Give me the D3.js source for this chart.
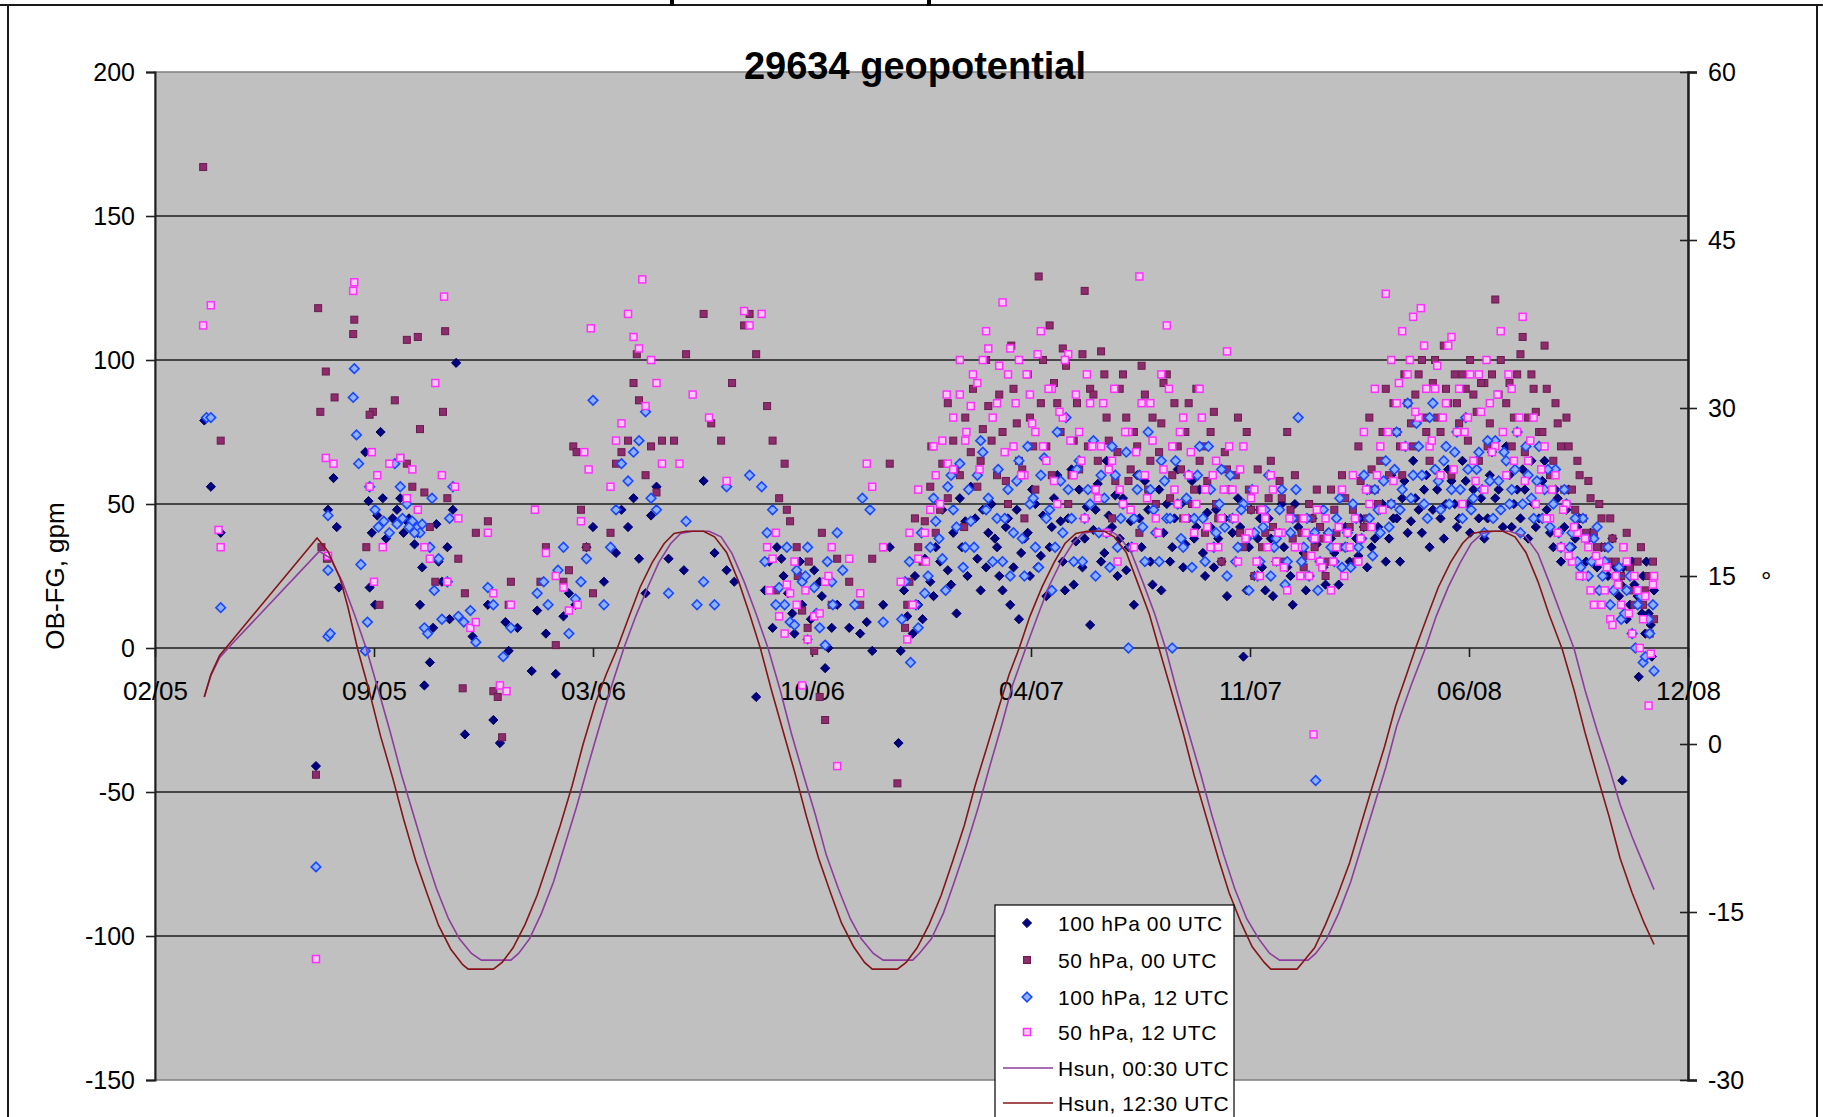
<!DOCTYPE html>
<html><head><meta charset="utf-8">
<script src="https://cdn.jsdelivr.net/npm/d3@7"></script>
<style>
body{margin:0;background:#fff}
svg{display:block}
text{font-family:"Liberation Sans",Arial,sans-serif;fill:#000}
</style>
</head><body>
<svg id="chart" width="1823" height="1117"></svg>
<script>
// Station 29634: observation minus first guess of geopotential, plus solar elevation.
// Dates are spreadsheet serial day numbers (38401 = 18 Feb 2005).
const xTickValues = [38401, 38601, 38801, 39001, 39201, 39401, 39601, 39801];
const xTickLabels = ["02/05","09/05","03/06","10/06","04/07","11/07","06/08","12/08"];
const leftTicks = [-150, -100, -50, 0, 50, 100, 150, 200];
const rightTicks = [-30, -15, 0, 15, 30, 45, 60];

const seriesNames = ["100 hPa 00 UTC","50 hPa, 00 UTC","100 hPa, 12 UTC","50 hPa, 12 UTC","Hsun, 00:30 UTC","Hsun, 12:30 UTC"];

// OB-FG, gpm
const z100_00 = [[38446,79],[38452,56],[38461,40],[38548,-41],[38559,48],[38564,59],[38567,42],[38569,21],
[38593,68],[38596,51],[38599,40],[38604,46],[38597,21],[38602,15],[38609,52],[38607,75],
[38625,52],[38631,44],[38636,42],[38641,40],[38643,15],[38647,-13],[38652,-5],[38655,7],[38663,23],[38668,35],[38673,48],[38684,-30],[38676,99],
[38612,38],[38618,45],[38622,48],[38628,40],[38633,45],[38638,36],[38645,28],[38658,43],[38660,30],[38670,10],
[38691,4],[38705,15],[38710,-25],[38716,-33],[38721,9],[38724,-1],[38732,7],
[38745,-8],[38750,13],[38758,5],[38767,-9],[38774,11],[38779,19],[38785,15],[38790,23],[38795,35],[38801,42],
[38811,23],[38822,33],[38827,48],[38833,42],[38838,52],[38843,31],[38849,19],[38854,46],[38859,56],
[38870,31],[38884,27],[38902,58],[38912,33],[38923,27],[38930,23],[38950,-17],
[38958,20],[38962,30],[38975,25],[38983,12],[38990,30],[39000,10],[39010,18],[39016,0],
[38965,7],[38969,35],[38973,31],[38979,19],[38985,5],[38992,15],[38997,3],[39003,27],[39008,23],[39013,-7],[39019,7],[39024,15],
[39035,7],[39045,5],[39051,9],[39056,-1],[39066,15],[39072,35],
[39080,-33],[39082,-1],[39088,11],[39093,5],[39098,15],[39104,31],[39109,23],[39114,35],[39120,48],[39125,27],[39130,40],[39136,52],[39141,44],[39146,56],[39152,31],[39157,48],[39162,40],
[39170,35],[39175,20],[39180,45],[39185,28],[39190,10],[39195,38],[39200,25],[39205,50],[39210,32],[39215,18],[39220,42],[39225,60],[39230,30],[39235,45],[39240,22],[39245,55],[39250,38],[39255,8],[39260,48],[39265,30],[39270,65],[39275,42],[39280,25],[39285,52],[39290,35],[39295,15],[39300,45],[39305,58],[39310,30],[39315,40],[39320,20],[39325,50],[39330,35],[39335,62],[39340,28],[39345,45],[39350,38],[39355,55],[39360,25],[39365,42],[39370,48],[39375,30],[39380,18],[39385,40],[39390,52],[39395,-3],[39400,35],[39405,25],[39410,45],[39415,20],[39420,38],[39425,30],[39430,50],[39435,28],[39440,15],[39445,42],[39450,33],[39455,25],[39460,40],[39465,30],[39470,22],[39475,38],[39480,45],[39485,28],[39490,35],[39495,50],[39500,32],[39505,42],[39510,55],[39515,38],[39520,48],[39525,30],[39530,60],[39535,45],[39540,52],[39545,40],[39550,65],[39555,48],[39560,55],[39565,35],[39570,62],[39575,45],[39580,50],[39585,58],[39590,42],[39595,65],[39600,50],[39605,55],[39610,45],[39615,38],[39620,60],[39625,52],[39630,48],[39635,70],[39640,42],[39645,55],[39650,62],[39655,38],[39660,50],[39665,45],[39670,65],[39675,40],[39680,55],[39685,30],[39690,48],[39695,35],[39700,42],[39705,25],[39710,38],[39715,30],[39720,20],[39725,35],[39730,15],[39735,28],[39740,22],[39745,10],[39750,30],[39755,18],[39741,-46],[39760,25],[39762,5],[39765,12],[39768,-3],[39770,20],
[39085,20],[39095,25],[39102,10],[39112,18],[39118,30],[39128,22],[39133,12],[39138,35],[39143,25],[39150,45],[39155,20],[39160,28],[39165,50],[39168,38],[39172,25],[39178,42],[39182,15],[39188,48],[39192,33],[39198,40],[39202,55],[39207,28],[39212,46],[39218,35],[39222,52],[39228,44],[39232,20],[39238,62],[39242,37],[39248,28],[39252,49],[39258,41],[39262,57],[39268,33],[39272,46],[39278,53],[39282,38],[39288,27],[39292,44],[39298,60],[39302,35],[39308,48],[39312,22],[39318,55],[39322,40],[39328,30],[39332,45],[39338,50],[39342,36],[39348,58],[39352,42],[39358,33],[39362,47],[39368,28],[39372,38],[39378,45],[39382,55],[39388,30],[39392,42],[39398,20],[39402,48],[39408,38],[39412,28],[39418,45],[39422,18],[39428,40],[39432,35],[39438,25],[39442,50],[39448,30],[39452,20],[39458,45],[39462,36],[39468,28],[39472,40],[39478,33],[39482,22],[39488,42],[39492,30],[39498,38],[39502,45],[39508,28],[39512,35],[39518,42],[39522,50],[39528,38],[39532,45],[39538,30],[39542,58],[39548,44],[39552,52],[39558,40],[39562,60],[39568,48],[39572,55],[39578,38],[39582,62],[39588,50],[39592,45],[39598,58],[39602,40],[39608,65],[39612,52],[39618,45],[39622,68],[39628,55],[39632,42],[39638,60],[39642,50],[39648,45],[39652,55],[39658,65],[39662,42],[39668,58],[39672,48],[39678,35],[39682,52],[39688,42],[39692,55],[39698,38],[39702,45],[39708,30],[39712,40],[39718,28],[39722,35],[39728,25],[39732,38],[39738,18],[39742,28],[39748,15],[39752,22],[39756,-10],[39759,12],[39763,30],[39767,8]];

const z50_00 = [[38445,167],[38461,72],[38550,118],[38583,114],[38582,109],[38631,107],[38666,110],[38557,96],[38565,87],[38552,82],[38600,82],[38597,81],[38664,82],
[38548,-44],[38553,35],[38558,31],[38594,35],[38606,15],
[38620,86],[38625,66],[38631,64],[38636,56],[38641,108],[38643,76],[38647,54],[38652,42],[38657,23],[38668,52],[38678,31],[38682,-14],[38684,19],
[38694,40],[38705,44],[38710,-15],[38714,-17],[38718,-31],[38724,15],[38726,23],
[38748,48],[38753,23],[38758,35],[38767,1],[38774,23],[38779,27],[38783,70],[38786,68],[38790,48],[38795,35],[38801,19],
[38817,40],[38822,64],[38827,68],[38833,72],[38838,92],[38841,102],[38843,86],[38849,60],[38854,70],[38859,54],[38864,72],
[38875,72],[38886,102],[38902,116],[38909,78],[38918,72],[38928,92],[38939,112],[38944,116],[38950,102],
[38960,84],[38965,72],[38971,52],[38976,64],[38981,44],[38987,35],[38992,13],[38997,7],[39003,-1],[39008,-17],[39013,-25],[39019,15],[39024,31],
[38968,20],[38978,48],[38988,25],[38998,30],[39010,40],
[39035,23],[39045,15],[39056,31],[39066,35],[39072,64],
[39079,-47],[39086,7],[39090,23],[39098,35],[39104,44],[39109,56],[39114,40],[39120,64],[39125,52],[39130,72],[39136,60],[39141,80],[39146,68],[39152,56],[39157,76],[39162,84],
[39170,60],[39175,75],[39180,50],[39185,90],[39190,65],[39195,45],[39200,80],[39205,55],[39208,129],[39212,100],[39215,70],[39220,60],[39225,85],[39230,104],[39235,50],[39240,72],[39245,62],[39250,124],[39255,90],[39260,55],[39265,103],[39270,80],[39275,45],[39280,68],[39285,95],[39290,58],[39295,75],[39300,40],[39305,88],[39310,65],[39315,50],[39320,78],[39325,95],[39330,60],[39335,70],[39340,45],[39345,85],[39350,55],[39355,65],[39360,40],[39365,75],[39370,50],[39375,30],[39380,62],[39385,45],[39390,80],[39395,35],[39400,55],[39405,25],[39410,48],[39415,40],[39420,65],[39425,30],[39430,52],[39435,75],[39440,38],[39445,45],[39450,28],[39455,50],[39460,35],[39465,42],[39470,25],[39475,55],[39480,40],[39485,60],[39490,35],[39495,48],[39500,70],[39505,42],[39510,80],[39515,55],[39520,65],[39525,90],[39530,50],[39535,75],[39540,60],[39545,85],[39550,70],[39555,95],[39560,80],[39565,65],[39570,100],[39575,75],[39580,90],[39585,60],[39590,85],[39595,95],[39600,72],[39605,88],[39610,65],[39615,92],[39620,78],[39625,121],[39630,100],[39635,85],[39640,70],[39645,95],[39650,108],[39655,80],[39660,90],[39665,75],[39670,105],[39675,60],[39680,85],[39685,70],[39690,80],[39695,55],[39700,65],[39705,45],[39710,58],[39715,40],[39720,50],[39725,35],[39730,45],[39735,30],[39740,25],[39745,40],[39750,20],[39755,30],[39760,15],[39765,25],[39770,10],
[39088,15],[39095,45],[39102,30],[39110,70],[39118,48],[39125,85],[39132,62],[39140,42],[39148,90],[39155,65],[39160,100],[39165,72],[39172,88],[39178,58],[39183,105],[39188,78],[39193,62],[39198,95],[39203,70],[39210,85],[39218,112],[39222,92],[39228,75],[39233,98],[39238,60],[39243,85],[39248,102],[39253,70],[39258,88],[39262,65],[39268,95],[39272,72],[39278,58],[39282,90],[39288,80],[39292,62],[39298,70],[39302,98],[39308,55],[39312,80],[39318,68],[39322,92],[39328,52],[39332,85],[39338,62],[39342,75],[39348,50],[39352,90],[39358,70],[39362,58],[39368,82],[39372,45],[39378,68],[39382,55],[39388,60],[39392,40],[39398,75],[39402,48],[39408,62],[39412,35],[39418,52],[39422,42],[39428,58],[39432,30],[39438,48],[39442,60],[39448,40],[39452,32],[39458,45],[39462,55],[39468,38],[39472,30],[39478,48],[39482,35],[39488,52],[39492,42],[39498,30],[39502,58],[39508,45],[39512,62],[39518,50],[39522,75],[39528,60],[39532,85],[39538,70],[39542,95],[39548,78],[39552,88],[39558,100],[39562,75],[39568,92],[39572,80],[39578,105],[39582,85],[39588,95],[39592,78],[39598,90],[39602,100],[39608,82],[39612,92],[39618,70],[39622,95],[39628,88],[39632,75],[39638,92],[39642,80],[39648,102],[39652,68],[39658,95],[39662,82],[39668,75],[39672,90],[39678,65],[39682,78],[39688,55],[39692,70],[39698,48],[39702,60],[39708,40],[39712,52],[39718,35],[39722,45],[39728,30],[39732,38],[39738,22],[39742,35],[39748,28],[39752,15],[39758,35],[39762,20],[39766,5],[39769,30]];

const z100_12 = [[38448,80],[38452,80],[38461,14],[38548,-76],[38559,46],[38559,27],[38559,4],[38561,5],
[38583,97],[38582,87],[38585,74],[38587,64],[38589,29],[38593,-1],[38595,9],[38597,56],[38602,48],
[38620,64],[38625,56],[38631,50],[38636,44],[38641,42],[38643,40],[38647,7],[38650,5],[38652,35],[38654,52],[38660,31],[38668,23],[38673,56],[38678,11],[38683,9],
[38605,42],[38610,44],[38615,40],[38622,43],[38627,45],[38633,42],[38638,40],[38645,43],[38656,20],[38663,10],[38670,45],
[38689,13],[38694,2],[38705,21],[38710,15],[38719,-3],[38726,7],
[38750,19],[38756,23],[38760,15],[38769,27],[38774,35],[38779,5],[38785,17],[38790,23],[38795,31],[38801,86],
[38811,15],[38817,35],[38822,48],[38827,64],[38833,58],[38838,68],[38843,72],[38849,82],[38854,52],[38859,48],
[38870,19],[38886,44],[38896,15],[38902,23],[38912,15],[38923,56],[38944,60],
[38955,56],[38960,40],[38965,48],[38971,21],[38976,15],[38981,9],[38987,27],[38992,23],[38997,35],[39003,21],[39008,7],[39013,1],[39019,23],[39024,40],
[38958,30],[38968,15],[38978,35],[38985,8],[38995,25],[39005,12],[39015,30],[39020,15],
[39029,27],[39040,15],[39047,52],[39054,48],[39066,9],
[39086,23],[39091,-5],[39098,7],[39104,19],[39109,35],[39114,44],[39120,31],[39125,56],[39130,48],[39136,64],[39141,35],[39146,44],[39152,60],[39157,68],[39162,52],
[39170,45],[39175,30],[39180,55],[39185,40],[39190,65],[39195,25],[39200,50],[39205,35],[39210,60],[39215,45],[39220,20],[39225,75],[39230,40],[39235,55],[39240,30],[39245,65],[39250,45],[39255,50],[39260,25],[39265,60],[39270,40],[39275,70],[39280,35],[39285,50],[39290,0],[39295,45],[39300,60],[39305,30],[39310,55],[39315,40],[39320,65],[39325,45],[39330,0],[39335,50],[39340,35],[39345,60],[39350,45],[39355,70],[39360,30],[39365,55],[39370,40],[39375,62],[39380,25],[39385,45],[39390,35],[39395,50],[39400,20],[39405,40],[39410,30],[39415,48],[39420,25],[39425,38],[39430,55],[39435,30],[39440,45],[39445,80],[39450,35],[39455,25],[39460,40],[39465,30],[39461,-46],[39475,35],[39480,45],[39485,28],[39490,40],[39495,50],[39500,35],[39505,60],[39510,45],[39515,55],[39520,40],[39525,65],[39530,50],[39535,75],[39540,55],[39545,85],[39550,60],[39555,70],[39560,50],[39565,80],[39570,62],[39575,48],[39580,70],[39585,55],[39590,75],[39595,45],[39600,62],[39605,52],[39610,68],[39615,40],[39620,58],[39625,72],[39630,48],[39635,65],[39640,55],[39645,75],[39650,50],[39655,60],[39660,45],[39665,70],[39670,55],[39675,42],[39680,62],[39685,35],[39690,50],[39695,40],[39700,30],[39705,45],[39710,25],[39715,38],[39720,20],[39725,30],[39730,15],[39735,25],[39740,10],[39745,20],[39750,5],[39755,15],[39760,-5],[39765,10],[39770,-8],
[39083,10],[39090,30],[39096,15],[39101,40],[39107,25],[39112,52],[39117,38],[39123,20],[39128,60],[39133,42],[39139,28],[39144,55],[39149,35],[39155,72],[39160,48],[39166,30],[39171,62],[39177,45],[39182,25],[39188,58],[39193,38],[39198,70],[39203,52],[39208,28],[39213,66],[39218,48],[39223,35],[39228,58],[39233,80],[39238,45],[39243,62],[39248,30],[39253,55],[39258,72],[39263,40],[39268,52],[39273,28],[39278,60],[39283,45],[39288,68],[39293,35],[39298,55],[39303,42],[39308,75],[39313,48],[39318,30],[39323,58],[39328,45],[39333,65],[39338,38],[39343,52],[39348,28],[39353,60],[39358,45],[39363,70],[39368,35],[39373,50],[39378,42],[39383,60],[39388,30],[39393,48],[39398,38],[39403,55],[39408,25],[39413,42],[39418,60],[39423,35],[39428,48],[39433,22],[39438,40],[39443,55],[39448,30],[39453,45],[39458,38],[39463,20],[39468,48],[39473,40],[39478,30],[39483,52],[39488,35],[39493,28],[39498,45],[39503,38],[39508,55],[39513,32],[39518,48],[39523,58],[39528,42],[39533,62],[39538,48],[39543,70],[39548,52],[39553,78],[39558,60],[39563,45],[39568,85],[39573,58],[39578,65],[39583,50],[39588,68],[39593,55],[39598,80],[39603,48],[39608,62],[39613,55],[39618,72],[39623,45],[39628,58],[39633,68],[39638,50],[39643,62],[39648,40],[39653,70],[39658,52],[39663,58],[39668,45],[39673,62],[39678,50],[39683,40],[39688,55],[39693,35],[39698,45],[39703,28],[39708,38],[39713,30],[39718,42],[39723,25],[39728,35],[39733,20],[39738,28],[39743,12],[39748,25],[39753,0],[39758,18],[39762,-3],[39766,5],[39769,15]];

const z50_12 = [[38445,112],[38452,119],[38461,35],[38459,41],[38583,127],[38582,124],[38665,122],
[38548,-108],[38557,66],[38564,64],[38559,32],
[38599,68],[38597,56],[38604,60],[38615,64],[38609,35],[38601,23],
[38625,66],[38631,52],[38636,62],[38641,48],[38647,35],[38652,31],[38657,92],[38663,60],[38668,23],[38675,56],[38678,45],
[38689,7],[38694,9],[38705,40],[38710,19],[38716,-13],[38722,-15],[38726,15],
[38748,48],[38758,33],[38767,25],[38774,21],[38779,13],[38787,15],[38790,44],[38793,68],[38797,62],[38799,111],
[38817,56],[38822,72],[38827,78],[38833,116],[38838,108],[38843,104],[38846,128],[38849,84],[38854,100],[38859,92],[38864,64],
[38880,64],[38892,88],[38907,80],[38923,58],[38939,117],[38944,112],[38955,116],
[38960,35],[38965,31],[38971,11],[38976,5],[38981,19],[38987,15],[38992,-13],[38997,3],[39003,11],[39013,23],[39019,35],[39024,-41],
[38962,20],[38968,40],[38978,22],[38985,30],[38995,20],[39008,12],[39016,25],
[39035,31],[39045,19],[39051,64],[39056,56],[39066,35],
[39082,23],[39088,3],[39093,15],[39098,31],[39104,40],[39109,48],[39114,60],[39120,72],[39125,64],[39130,80],[39136,88],[39141,72],[39146,84],[39152,92],[39157,100],[39162,104],
[39170,85],[39175,120],[39180,95],[39185,70],[39190,100],[39195,60],[39200,88],[39205,75],[39210,110],[39215,65],[39220,90],[39225,50],[39230,80],[39235,102],[39240,60],[39245,75],[39250,45],[39255,85],[39260,55],[39265,70],[39270,40],[39275,65],[39280,30],[39285,50],[39290,75],[39295,35],[39300,129],[39305,60],[39310,85],[39315,45],[39320,95],[39325,112],[39330,70],[39335,50],[39340,80],[39345,60],[39350,40],[39355,90],[39360,55],[39365,35],[39370,65],[39375,45],[39380,103],[39385,55],[39390,30],[39395,70],[39400,40],[39405,55],[39410,25],[39415,45],[39420,60],[39425,30],[39430,40],[39435,20],[39459,-30],[39445,35],[39450,45],[39455,25],[39460,38],[39465,30],[39470,45],[39475,20],[39480,35],[39485,55],[39490,40],[39495,60],[39500,30],[39505,75],[39510,50],[39515,90],[39520,70],[39525,123],[39530,100],[39535,85],[39540,110],[39545,95],[39550,115],[39555,80],[39560,105],[39565,70],[39570,90],[39575,60],[39580,85],[39585,108],[39590,75],[39595,50],[39600,80],[39605,65],[39610,95],[39615,55],[39620,85],[39625,70],[39630,110],[39635,60],[39640,90],[39645,75],[39650,115],[39655,65],[39660,80],[39665,55],[39670,70],[39675,45],[39680,60],[39685,35],[39690,50],[39695,30],[39700,40],[39705,25],[39710,35],[39715,15],[39720,30],[39725,20],[39730,10],[39735,25],[39740,15],[39745,30],[39750,5],[39755,20],[39760,10],[39765,-20],[39770,25],
[39090,40],[39098,55],[39105,30],[39112,70],[39118,50],[39124,88],[39130,62],[39136,100],[39142,75],[39148,95],[39154,62],[39160,110],[39166,80],[39172,98],[39177,68],[39182,104],[39187,85],[39192,60],[39197,95],[39202,78],[39207,102],[39212,70],[39217,90],[39222,58],[39227,82],[39232,100],[39237,72],[39242,88],[39247,65],[39252,95],[39257,70],[39262,52],[39267,85],[39272,62],[39277,90],[39282,55],[39287,75],[39292,48],[39297,68],[39302,85],[39307,52],[39312,72],[39317,40],[39322,62],[39327,90],[39332,55],[39337,75],[39342,45],[39347,68],[39352,50],[39357,80],[39362,42],[39367,60],[39372,35],[39377,55],[39382,70],[39387,45],[39392,62],[39397,38],[39402,52],[39407,30],[39412,48],[39417,35],[39422,55],[39427,40],[39432,28],[39437,45],[39442,35],[39447,25],[39452,40],[39457,32],[39462,48],[39467,28],[39472,38],[39477,30],[39482,42],[39487,25],[39492,35],[39497,45],[39502,38],[39507,55],[39512,42],[39517,60],[39522,48],[39527,75],[39532,58],[39537,92],[39542,70],[39547,100],[39552,82],[39557,118],[39562,90],[39567,72],[39572,98],[39577,80],[39582,105],[39587,62],[39592,90],[39597,75],[39602,95],[39607,58],[39612,82],[39617,100],[39622,68],[39627,88],[39632,75],[39637,95],[39642,65],[39647,80],[39652,58],[39657,72],[39662,50],[39667,62],[39672,45],[39677,55],[39682,40],[39687,48],[39692,32],[39697,42],[39702,25],[39707,38],[39712,20],[39717,32],[39722,15],[39727,28],[39732,8],[39737,22],[39742,35],[39747,12],[39752,25],[39757,0],[39762,18],[39767,-2],[39769,22]];

// Solar elevation, degrees
const hsun0030 = [[38446,4.2],[38452,6.1],[38460,7.7],[38471,8.9],[38551,17.2],[38561,16.6],[38572,14.5],[38583,11.6],[38594,8.5],[38605,4.8],[38616,1.0],[38626,-2.7],[38637,-6.3],[38648,-9.9],[38658,-12.9],[38669,-15.6],[38679,-17.4],[38690,-18.7],[38699,-19.3],[38726,-19.3],
[38733,-18.7],[38743,-17.4],[38754,-15.1],[38765,-12.3],[38775,-9.1],[38786,-5.6],[38796,-2.1],[38807,1.6],[38818,5.2],[38829,8.5],[38840,11.4],[38851,14.0],[38861,16.2],[38872,17.9],[38881,18.8],[38892,19.0],[38907,19.0],
[38918,18.5],[38928,17.0],[38939,14.5],[38950,11.6],[38961,8.5],[38972,4.8],[38982,1.0],[38993,-2.7],[39004,-6.3],[39014,-9.9],[39025,-12.9],[39036,-15.6],[39046,-17.4],[39057,-18.7],[39066,-19.3],[39093,-19.3],
[39099,-18.7],[39110,-17.4],[39121,-15.1],[39131,-12.3],[39142,-9.1],[39153,-5.6],[39163,-2.1],[39174,1.6],[39184,5.2],[39196,8.5],[39207,11.4],[39217,14.0],[39228,16.2],[39239,17.9],[39248,18.8],[39259,19.0],[39274,19.0],
[39282,18.5],[39293,17.0],[39303,14.5],[39314,11.6],[39324,8.5],[39334,4.8],[39345,1.0],[39356,-2.7],[39366,-6.3],[39377,-9.9],[39387,-12.9],[39398,-15.6],[39409,-17.4],[39419,-18.7],[39428,-19.3],[39454,-19.3],
[39461,-18.7],[39471,-17.4],[39482,-15.1],[39493,-12.3],[39503,-9.1],[39514,-5.6],[39525,-2.1],[39535,1.6],[39548,5.2],[39561,8.5],[39571,11.4],[39582,14.0],[39593,16.2],[39603,17.9],[39613,18.8],[39623,19.0],[39638,19.0],
[39653,18.5],[39664,17.0],[39674,14.5],[39685,11.6],[39697,8.5],[39707,4.8],[39718,1.2],[39729,-2.1],[39739,-5.4],[39750,-8.3],[39761,-10.9],[39770,-13.0]];

const hsun1230 = [[38446,4.2],[38452,6.2],[38460,7.9],[38471,9.2],[38549,18.4],[38559,17.2],[38570,14.8],[38577,12.3],[38586,8.5],[38597,4.6],[38607,0.7],[38618,-3.0],[38628,-6.7],[38639,-10.4],[38650,-13.5],[38660,-16.2],[38671,-18.3],[38682,-19.7],[38687,-20.1],[38710,-20.1],
[38718,-19.5],[38728,-18.2],[38739,-16.1],[38750,-13.5],[38760,-10.6],[38771,-7.3],[38782,-3.7],[38792,0],[38803,3.6],[38813,6.2],[38823,8.5],[38834,11.4],[38844,14.0],[38855,16.2],[38866,17.9],[38875,18.8],[38886,19.0],[38902,19.0],
[38912,18.5],[38923,17.1],[38934,14.5],[38944,11.6],[38954,8.5],[38964,4.8],[38975,1.0],[38986,-2.8],[38996,-6.5],[39007,-10.2],[39018,-13.3],[39028,-16.0],[39039,-18.1],[39049,-19.5],[39056,-20.1],[39079,-20.1],
[39087,-19.5],[39097,-18.2],[39108,-16.1],[39119,-13.5],[39129,-10.6],[39140,-7.3],[39150,-3.7],[39161,-0.2],[39172,3.4],[39181,6.2],[39190,8.5],[39200,11.4],[39211,14.0],[39222,16.2],[39232,17.9],[39242,18.8],[39252,19.0],[39268,19.0],
[39277,18.5],[39288,17.1],[39298,14.5],[39309,11.6],[39318,8.5],[39329,4.8],[39340,1.0],[39350,-2.8],[39361,-6.5],[39372,-10.2],[39382,-13.3],[39393,-16.0],[39403,-18.1],[39414,-19.5],[39420,-20.1],[39444,-20.1],
[39449,-19.5],[39460,-18.2],[39470,-16.1],[39481,-13.5],[39492,-10.6],[39502,-7.3],[39513,-3.7],[39524,-0.2],[39534,3.4],[39544,6.2],[39552,8.5],[39563,11.4],[39573,14.0],[39584,16.2],[39595,17.9],[39604,18.8],[39615,19.0],[39632,19.0],
[39643,18.5],[39653,17.1],[39664,14.5],[39674,11.6],[39686,8.5],[39697,4.8],[39707,1.0],[39718,-2.8],[39729,-6.5],[39739,-10.2],[39750,-13.3],[39761,-16.0],[39770,-17.9]];

const W = 1823, H = 1117;
const plot = {left: 155, right: 1688, top: 72, bottom: 1080};

const svg = d3.select("#chart");
svg.append("rect").attr("width", W).attr("height", H).attr("fill", "#fff");

// outer chart frame
const frame = svg.append("g").attr("stroke", "#1a1a1a").attr("stroke-width", 2).attr("fill", "none");
frame.append("line").attr("x1", 0).attr("x2", W).attr("y1", 5).attr("y2", 5);
frame.append("line").attr("x1", 8).attr("x2", 8).attr("y1", 5).attr("y2", H);
frame.append("line").attr("x1", 1817).attr("x2", 1817).attr("y1", 5).attr("y2", H);
svg.append("rect").attr("x", 670).attr("y", 0).attr("width", 4).attr("height", 6).attr("fill", "#000");
svg.append("rect").attr("x", 927).attr("y", 0).attr("width", 4).attr("height", 6).attr("fill", "#000");

const x = d3.scaleLinear().domain([xTickValues[0], xTickValues[xTickValues.length - 1]]).range([plot.left, plot.right]);
const yL = d3.scaleLinear().domain([-150, 200]).range([plot.bottom, plot.top]);
const yR = d3.scaleLinear().domain([-30, 60]).range([plot.bottom, plot.top]);

// plot area
svg.append("rect").attr("x", plot.left).attr("y", plot.top)
  .attr("width", plot.right - plot.left).attr("height", plot.bottom - plot.top)
  .attr("fill", "#c0c0c0").attr("stroke", "#808080").attr("stroke-width", 1.5);

// horizontal gridlines
svg.append("g").selectAll("line").data(leftTicks.filter(v => v > -150 && v < 200)).join("line")
  .attr("x1", plot.left).attr("x2", plot.right)
  .attr("y1", d => yL(d)).attr("y2", d => yL(d))
  .attr("stroke", "#1e1e1e").attr("stroke-width", 1.6);

// left axis
const gL = svg.append("g").attr("transform", `translate(${plot.left},0)`)
  .call(d3.axisLeft(yL).tickValues(leftTicks).tickSize(9).tickPadding(11));
gL.select(".domain").attr("stroke", "#1e1e1e").attr("stroke-width", 2);
gL.selectAll(".tick line").attr("stroke", "#1e1e1e").attr("stroke-width", 1.6);
gL.selectAll(".tick text").attr("font-size", 25).attr("font-family", null).text(d => d < 0 ? "-" + Math.abs(d) : d);

// right axis
const gR = svg.append("g").attr("transform", `translate(${plot.right},0)`)
  .call(d3.axisRight(yR).tickValues(rightTicks).tickSize(9).tickPadding(11));
gR.select(".domain").attr("stroke", "#1e1e1e").attr("stroke-width", 2.5);
gR.selectAll(".tick line").attr("x1", -8).attr("stroke", "#1e1e1e").attr("stroke-width", 1.6);
gR.selectAll(".tick text").attr("font-size", 25).attr("font-family", null).text(d => d < 0 ? "-" + Math.abs(d) : d);

// date axis crossing at zero
const gX = svg.append("g").attr("transform", `translate(0,${yL(0)})`)
  .call(d3.axisBottom(x).tickValues(xTickValues).tickSize(9).tickFormat((d, i) => xTickLabels[i]));
gX.select(".domain").remove();
gX.selectAll(".tick line").attr("stroke", "#1e1e1e").attr("stroke-width", 1.6);
gX.selectAll(".tick text").attr("font-size", 26).attr("font-family", null).attr("y", 52).attr("dy", 0);

// markers
const diamondPath = r => `M0,${-r}L${r},0L0,${r}L${-r},0Z`;
const styles = [
  {type: "diamond", r: 4.6, fill: "#000080", stroke: "#000060", sw: 1},
  {type: "square", s: 7, fill: "#8c2c6c", stroke: "#6a1c50", sw: 1},
  {type: "diamond", r: 4.8, fill: "#8fb0ff", stroke: "#1848ff", sw: 1.6},
  {type: "square", s: 7, fill: "#ffc8ff", stroke: "#ff30ff", sw: 1.5}
];
function drawMarker(sel, st) {
  if (st.type === "diamond") {
    sel.append("path").attr("d", diamondPath(st.r)).attr("fill", st.fill).attr("stroke", st.stroke).attr("stroke-width", st.sw);
  } else {
    sel.append("rect").attr("x", -st.s / 2).attr("y", -st.s / 2).attr("width", st.s).attr("height", st.s)
      .attr("fill", st.fill).attr("stroke", st.stroke).attr("stroke-width", st.sw);
  }
}
const pointSeries = [z100_00, z50_00, z100_12, z50_12];
pointSeries.forEach((data, i) => {
  svg.append("g").selectAll("g").data(data).join("g")
    .attr("transform", d => `translate(${x(d[0])},${yL(d[1])})`)
    .each(function () { drawMarker(d3.select(this), styles[i]); });
});

// solar elevation lines on the right-hand scale
const lineGen = d3.line().x(d => x(d[0])).y(d => yR(d[1]));
const lineColors = ["#8e3c9c", "#861418"];
[hsun0030, hsun1230].forEach((data, i) => {
  svg.append("path").datum(data).attr("d", lineGen).attr("fill", "none")
    .attr("stroke", lineColors[i]).attr("stroke-width", 1.6);
});

// titles
svg.append("text").attr("x", 915).attr("y", 79).attr("text-anchor", "middle")
  .attr("font-size", 38).attr("font-weight", "bold").text("29634 geopotential");
svg.append("text").attr("transform", "translate(64,576) rotate(-90)").attr("text-anchor", "middle")
  .attr("font-size", 26).text("OB-FG, gpm");
svg.append("text").attr("x", 1761).attr("y", 590).attr("font-size", 26).text("°");

// legend
const lg = svg.append("g").attr("transform", "translate(995,905)");
lg.append("rect").attr("width", 239).attr("height", 230).attr("fill", "#fff").attr("stroke", "#000").attr("stroke-width", 1.2);
const rowY = [18, 55, 92, 127, 163, 198];
seriesNames.forEach((name, i) => {
  const g = lg.append("g").attr("transform", `translate(0,${rowY[i]})`);
  if (i < 4) {
    const m = g.append("g").attr("transform", "translate(32,0)");
    drawMarker(m, styles[i]);
  } else {
    g.append("line").attr("x1", 8).attr("x2", 58).attr("y1", 0).attr("y2", 0)
      .attr("stroke", lineColors[i - 4]).attr("stroke-width", 1.6);
  }
  g.append("text").attr("x", 63).attr("y", 7.5).attr("font-size", 21).attr("letter-spacing", 0.6).text(name);
});
</script>
</body></html>
